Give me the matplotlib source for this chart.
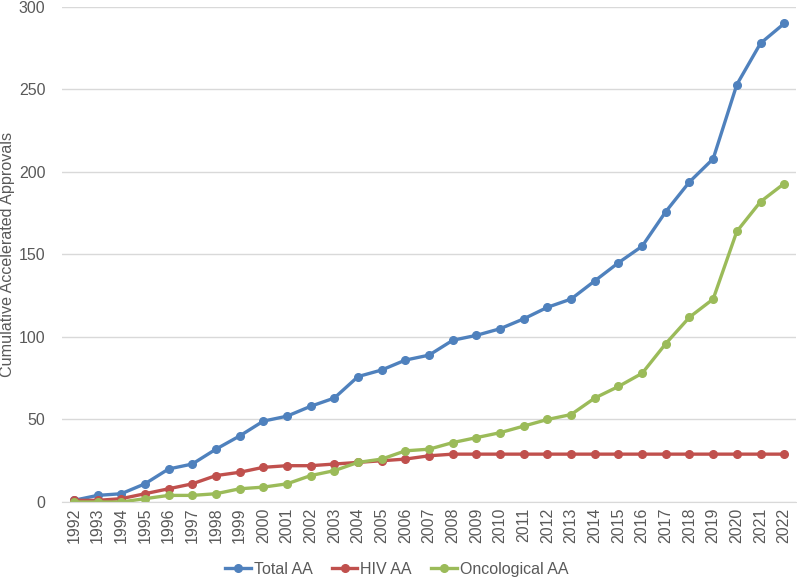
import matplotlib
matplotlib.use("Agg")
import matplotlib.pyplot as plt
import numpy as np

years = list(range(1992, 2023))
total_aa = [1, 4, 5, 11, 20, 23, 32, 40, 49, 52, 58, 63, 76, 80, 86, 89, 98,
            101, 105, 111, 118, 123, 134, 145, 155, 176, 194, 208, 253, 278, 290]
hiv_aa = [1, 1, 2, 5, 8, 11, 16, 18, 21, 22, 22, 23, 24, 25, 26, 28, 29,
          29, 29, 29, 29, 29, 29, 29, 29, 29, 29, 29, 29, 29, 29]
onco_aa = [0, 0, 0, 2, 4, 4, 5, 8, 9, 11, 16, 19, 24, 26, 31, 32, 36,
           39, 42, 46, 50, 53, 63, 70, 78, 96, 112, 123, 164, 182, 193]

plt.rcParams["font.family"] = ["Liberation Sans", "DejaVu Sans"]
text_col = "#595959"

fig = plt.figure(figsize=(7.97, 5.78), dpi=100)
ax = fig.add_axes([0.0778, 0.1315, 0.921, 0.8564])

x = np.arange(len(years))
series = [
    (total_aa, "Total AA", "#4F81BD"),
    (hiv_aa, "HIV AA", "#C0504D"),
    (onco_aa, "Oncological AA", "#9BBB59"),
]
for vals, label, col in series:
    ax.plot(x, vals, color=col, lw=2.4, marker="o", ms=5.5, label=label)

ax.set_xlim(-0.5, len(years) - 0.5)
ax.set_ylim(0, 300)
ax.set_yticks(range(0, 301, 50))
ax.set_xticks(x)
ax.set_xticklabels([str(y) for y in years], rotation=90)
ax.tick_params(axis="both", length=0, labelsize=11.5, colors=text_col)
ax.tick_params(axis="y", pad=12)
ax.tick_params(axis="x", pad=4)

ax.grid(axis="y", color="#D9D9D9", lw=1)
ax.set_axisbelow(True)
for s in ["top", "right", "left"]:
    ax.spines[s].set_visible(False)
ax.spines["bottom"].set_color("#D9D9D9")

ax.set_ylabel("Cumulative Accelerated Approvals", fontsize=11.6, color=text_col, labelpad=3)

leg = ax.legend(loc="lower center", bbox_to_anchor=(0.456, -0.18), ncol=3,
                frameon=False, fontsize=11.5, handlelength=1.6, columnspacing=1.2,
                handletextpad=0.2)
for t in leg.get_texts():
    t.set_color(text_col)

fig.savefig("out.png", dpi=100)
